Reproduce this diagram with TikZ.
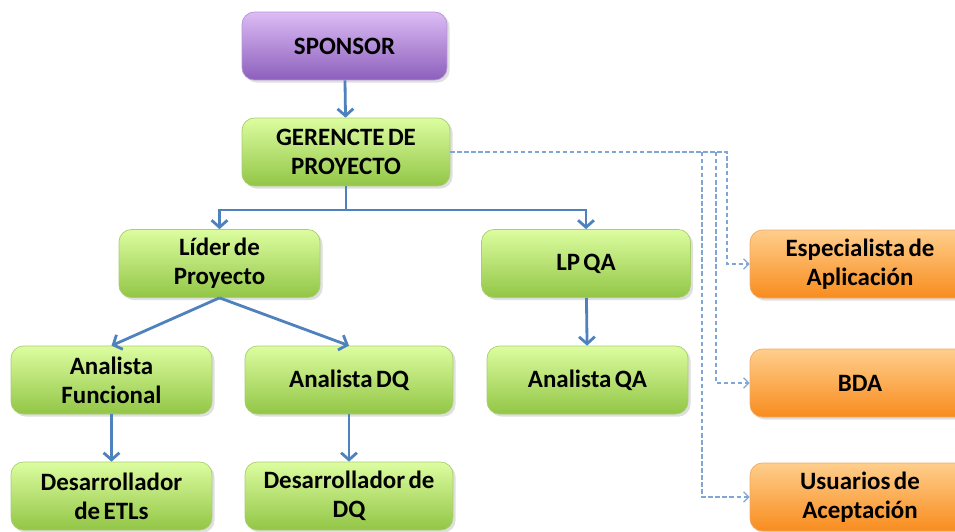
\documentclass[tikz,border=0pt]{standalone}
\usepackage{fontspec}
\setmainfont{Carlito}[WordSpace=0.6]
\usetikzlibrary{arrows.meta,shadows}

\definecolor{linea}{HTML}{4F81BD}
\definecolor{punteo}{HTML}{7FA6D6}
\tikzset{
  caja/.style={rectangle, rounded corners=7pt, inner sep=0pt, align=center,
    minimum width=4.1cm, minimum height=1.36cm,
    font=\fontsize{14.2}{16.4}\selectfont\bfseries,
    drop shadow={opacity=0.25, shadow xshift=1.5pt, shadow yshift=-1.5pt}},
  morado/.style={caja, draw={rgb,255:red,180;green,150;blue,215},
    top color={rgb,255:red,220;green,188;blue,245}, bottom color={rgb,255:red,140;green,95;blue,188}},
  verde/.style={caja, draw={rgb,255:red,170;green,205;blue,110},
    top color={rgb,255:red,220;green,253;blue,160}, bottom color={rgb,255:red,146;green,198;blue,70}},
  naranja/.style={caja, minimum width=4.4cm, draw={rgb,255:red,240;green,170;blue,100},
    top color={rgb,255:red,255;green,206;blue,140}, bottom color={rgb,255:red,248;green,140;blue,30}},
  flecha/.style={draw=linea, line width=1.6pt, -{Straight Barb[length=4pt,width=9pt]}},
  enlace/.style={draw=punteo, line width=0.7pt, dashed, dash pattern=on 2.5pt off 1.5pt,
    -{Straight Barb[length=3pt,width=6pt]}}
}

\begin{document}
\begin{tikzpicture}[x=0.02cm,y=-0.02cm]
  \useasboundingbox (0,0) rectangle (955,531);
  \clip (0,0) rectangle (955,531);
  % Cajas
  \node[morado] (sponsor) at (344.5,46) {SPONSOR};
  \node[verde, minimum width=4.16cm] (gerente) at (346,152) {GERENCTE DE\\PROYECTO};
  \node[verde, minimum width=4.02cm] (lider) at (219.5,263.5) {Líder de\\Proyecto};
  \node[verde, minimum width=4.18cm] (lpqa) at (586,263.5) {LP QA};
  \node[verde, minimum width=4.02cm] (afun) at (111.5,380) {Analista\\Funcional};
  \node[verde, minimum width=4.16cm] (adq) at (349,380) {Analista DQ};
  \node[verde, minimum width=4.02cm] (aqa) at (587.5,380) {Analista QA};
  \node[verde, minimum width=4.02cm] (detl) at (111.5,496) {Desarrollador\\de ETLs};
  \node[verde, minimum width=4.16cm] (ddq) at (349,496) {Desarrollador de\\DQ};
  \node[naranja] (espec) at (860,264) {Especialista de\\Aplicación};
  \node[naranja] (bda) at (860,383) {BDA};
  \node[naranja] (usu) at (860,497) {Usuarios de\\Aceptación};
  % Conectores
  \coordinate (rama) at (346,210);
  \draw[flecha] (sponsor) -- (gerente);
  \draw[flecha] (gerente.south) -- (rama) -| (lider.north);
  \draw[flecha] (rama) -| (lpqa.north);
  \draw[flecha] (lider.south) -- (afun.north);
  \draw[flecha] (lider.south) -- (adq.north);
  \draw[flecha] (lpqa) -- (aqa);
  \draw[flecha] (afun) -- (detl);
  \draw[flecha] (adq) -- (ddq);
  % Enlaces punteados
  \coordinate (p1) at (727,152);
  \coordinate (p2) at (716,152);
  \coordinate (p3) at (702,152);
  \draw[enlace] (gerente.east) -- (p1) |- (espec.west);
  \draw[enlace] (p2) |- (bda.west);
  \draw[enlace] (p3) |- (usu.west);
\end{tikzpicture}
\end{document}
